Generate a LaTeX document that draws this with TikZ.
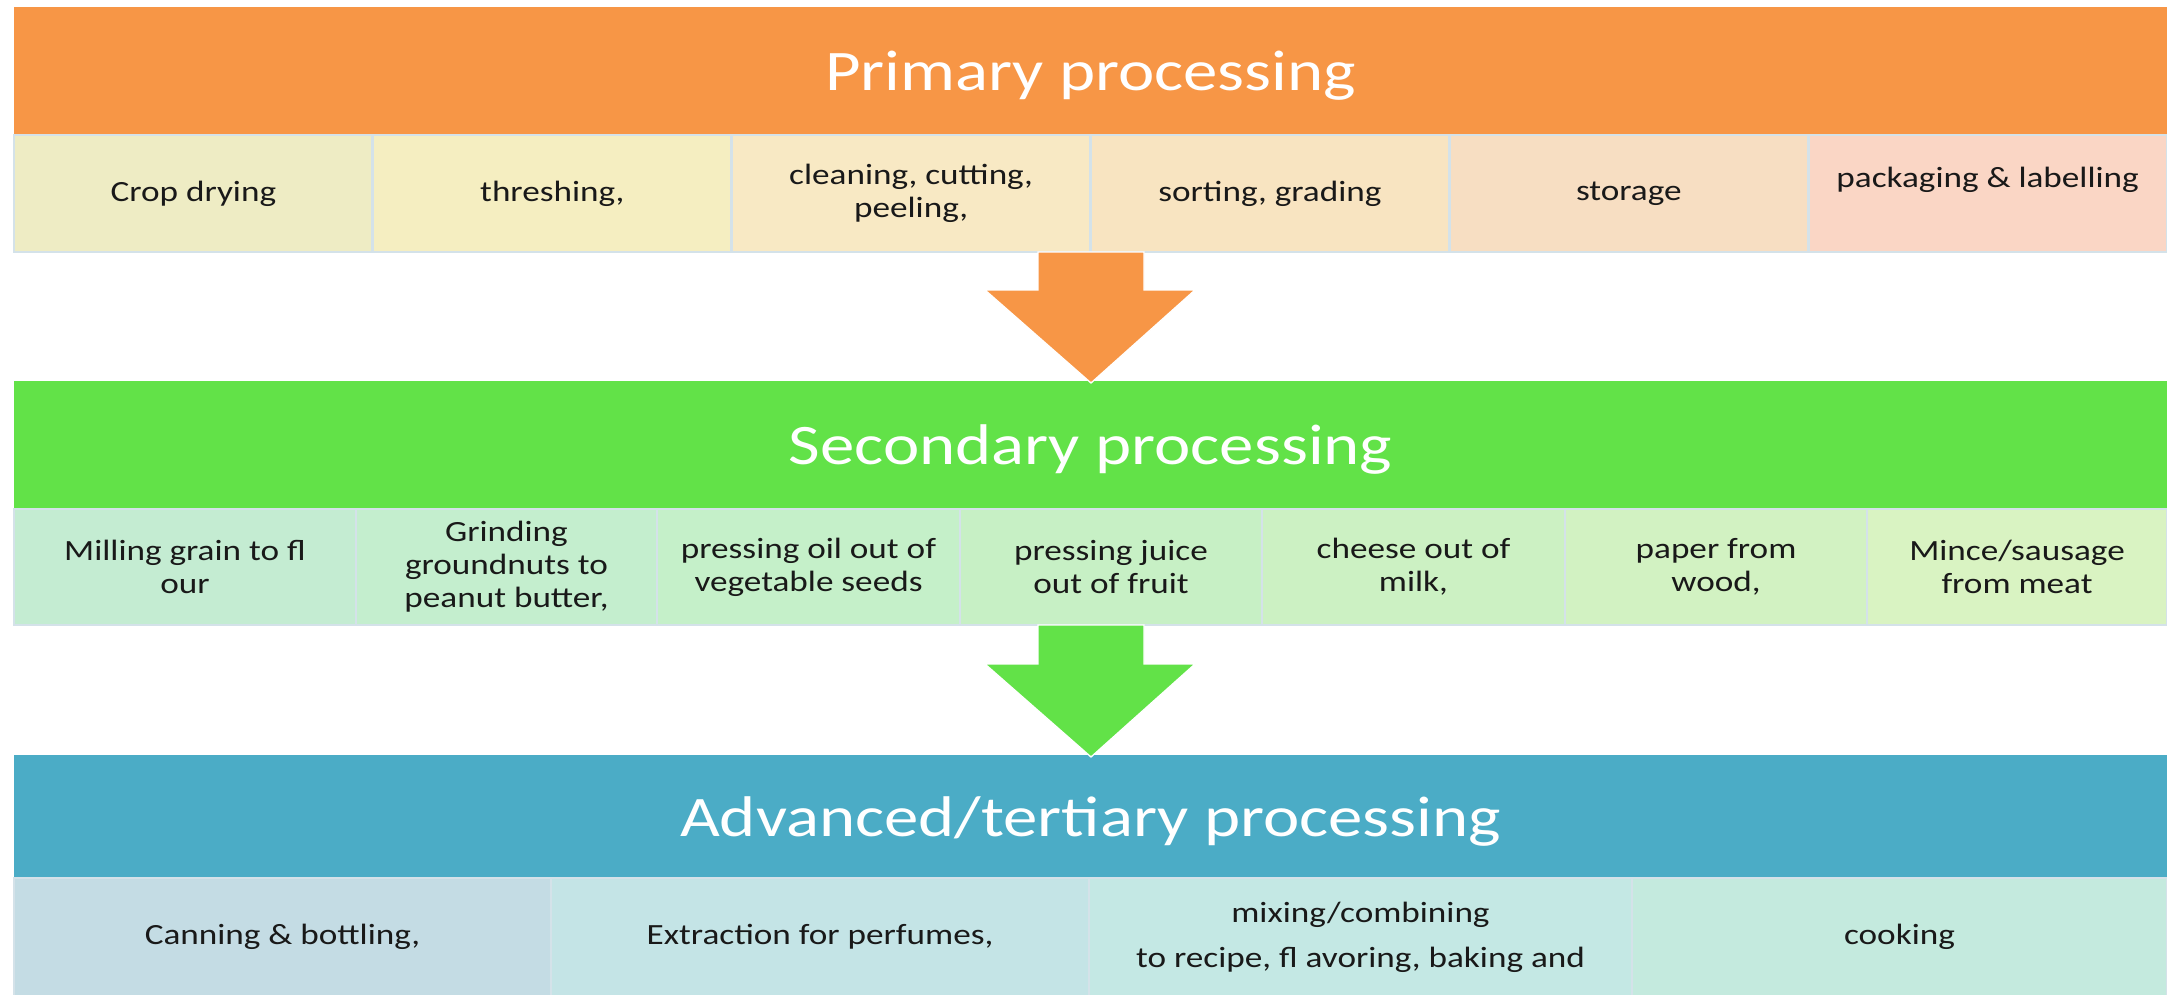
\documentclass[tikz,border=0pt]{standalone}
\usepackage{fontspec}
\setmainfont{Carlito}[FakeStretch=1.2]
\usepackage{tikz}
\usepackage{color}

\definecolor{primfill}{RGB}{247,150,70}
\definecolor{secfill}{RGB}{98,226,72}
\definecolor{terfill}{RGB}{75,172,198}
\definecolor{cellline}{RGB}{212,226,233}
\definecolor{inktext}{RGB}{25,25,25}
% row one
\definecolor{pa}{RGB}{238,236,196}
\definecolor{pb}{RGB}{245,238,193}
\definecolor{pc}{RGB}{248,233,196}
\definecolor{pd}{RGB}{248,228,193}
\definecolor{pe}{RGB}{247,222,194}
\definecolor{pf}{RGB}{250,214,197}
% row two
\definecolor{sa}{RGB}{196,236,210}
\definecolor{sb}{RGB}{196,238,206}
\definecolor{sc}{RGB}{197,240,201}
\definecolor{sd}{RGB}{199,240,197}
\definecolor{se}{RGB}{204,241,195}
\definecolor{sf}{RGB}{210,242,194}
\definecolor{sg}{RGB}{217,243,194}
% row three
\definecolor{ta}{RGB}{196,220,228}
\definecolor{tb}{RGB}{196,228,230}
\definecolor{tc}{RGB}{196,232,228}
\definecolor{td}{RGB}{196,234,222}

\tikzset{
  bandtitle/.style={text=white, inner sep=0.75pt, font=\fontsize{43}{50}\selectfont},
  cellbox/.style={fill=#1, draw=cellline, line width=2pt},
  celltext/.style={text=inktext, align=center, inner sep=0.75pt, font=\fontsize{22}{24.75}\selectfont},
}

\begin{document}
\begin{tikzpicture}[x=0.75pt,y=0.75pt,yscale=-1,xscale=1]
\useasboundingbox (0,0) rectangle (2167,995);

%Shape: Rectangle [primary band]
\fill[primfill] (14,7) rectangle (2167,135);
\node[bandtitle] (primary) at (1090.5,76) {Primary processing};

%Shape: Rectangle [primary cells]
\draw[cellbox=pa] (14,135) rectangle (372.8,252);
\draw[cellbox=pb] (372.8,135) rectangle (731.7,252);
\draw[cellbox=pc] (731.7,135) rectangle (1090.5,252);
\draw[cellbox=pd] (1090.5,135) rectangle (1449.3,252);
\draw[cellbox=pe] (1449.3,135) rectangle (1808.2,252);
\draw[cellbox=pf] (1808.2,135) rectangle (2167,252);

% Text Node
\node[celltext] (drying) at (193.4,193.5) {Crop drying};
\node[celltext] (threshing) at (552.3,193.5) {threshing,};
\node[celltext] (cleaning) at (911.1,193.5) {cleaning, cutting,\\peeling,};
\node[celltext] (sorting) at (1269.9,193.5) {sorting, grading};
\node[celltext] (storage) at (1628.8,193.5) {storage};
\node[celltext] (packaging) at (1987.6,193.5) {packaging \& labelling\\\mbox{}};

%Shape: Rectangle [secondary band]
\fill[secfill] (14,381) rectangle (2167,509);
\node[bandtitle] (secondary) at (1090.5,450) {Secondary processing};

%Shape: Arrow [primary to secondary]
\filldraw[fill=primfill, draw=white, line width=1pt] (1038,252) -- (1144,252) -- (1144,290) -- (1195,290) -- (1091,383) -- (985,290) -- (1038,290) -- cycle ;

%Shape: Rectangle [secondary cells]
\draw[cellbox=sa] (14,509) rectangle (356,625);
\draw[cellbox=sb] (356,509) rectangle (657,625);
\draw[cellbox=sc] (657,509) rectangle (960,625);
\draw[cellbox=sd] (960,509) rectangle (1262,625);
\draw[cellbox=se] (1262,509) rectangle (1565,625);
\draw[cellbox=sf] (1565,509) rectangle (1867,625);
\draw[cellbox=sg] (1867,509) rectangle (2167,625);

% Text Node
\node[celltext] (milling) at (185,567) {Milling grain to fl\\our};
\node[celltext] (grinding) at (506.5,567) {Grinding\\groundnuts to\\peanut butter,};
\node[celltext] (oil) at (808.5,567) {pressing oil out of\\vegetable seeds};
\node[celltext] (juice) at (1111,567) {pressing juice\\out of fruit};
\node[celltext] (cheese) at (1413.5,567) {cheese out of\\milk,};
\node[celltext] (paper) at (1716,567) {paper from\\wood,};
\node[celltext] (mince) at (2017,567) {Mince/sausage\\from meat};

%Shape: Rectangle [tertiary band]
\fill[terfill] (14,755) rectangle (2167,878);
\node[bandtitle] (tertiary) at (1090.5,822) {Advanced/tertiary processing};

%Shape: Arrow [secondary to tertiary]
\filldraw[fill=secfill, draw=white, line width=1pt] (1038,625) -- (1144,625) -- (1144,664) -- (1195,664) -- (1091,757) -- (985,664) -- (1038,664) -- cycle ;

%Shape: Rectangle [tertiary cells]
\draw[cellbox=ta] (14,878) rectangle (551,997);
\draw[cellbox=tb] (551,878) rectangle (1089,997);
\draw[cellbox=tc] (1089,878) rectangle (1632,997);
\draw[cellbox=td] (1632,878) rectangle (2167,997);

% Text Node
\node[celltext] (canning) at (282.5,936.5) {Canning \& bottling,};
\node[celltext] (extraction) at (820,936.5) {Extraction for perfumes,};
\node[celltext] (mixing) at (1360.5,937) {mixing/combining\\[9pt]to recipe, fl avoring, baking and};
\node[celltext] (cooking) at (1899.5,936.5) {cooking};

\end{tikzpicture}
\end{document}
